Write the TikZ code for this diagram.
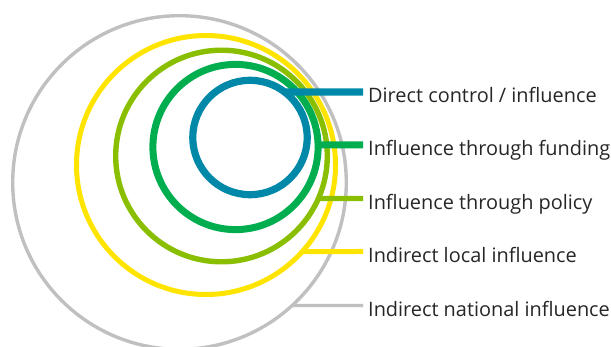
\documentclass[tikz,border=0pt]{standalone}
\usepackage{fontspec}
\setmainfont{Open Sans}
\usetikzlibrary{intersections}
\definecolor{ringblue}{RGB}{0,136,168}
\definecolor{ringgreen}{RGB}{0,174,80}
\definecolor{ringlime}{RGB}{138,190,0}
\definecolor{ringyellow}{RGB}{255,228,0}
\definecolor{ringgray}{RGB}{192,192,192}
\begin{document}
\begin{tikzpicture}[x=1pt,y=-1pt,
  ringlabel/.style={anchor=base west,inner sep=0pt,text=black!85,
    font=\fontsize{19.9}{20}\selectfont}]
\useasboundingbox (0,0) rectangle (611,347);
% ring centres
\coordinate (cgray)   at (179.5,182.5);
\coordinate (cyellow) at (206,165);
\coordinate (clime)   at (221.5,156);
\coordinate (cgreen)  at (235.5,147);
\coordinate (cblue)   at (250,137.5);
% rings, outermost first
\draw[ringgray,line width=3.4,name path=rgray] (cgray) circle[radius=166.8];
\draw[ringyellow,line width=5,name path=ryellow] (cyellow) circle[radius=129.5];
\draw[ringlime,line width=5.4,name path=rlime] (clime) circle[radius=105.8];
\draw[ringgreen,line width=7,name path=rgreen] (cgreen) circle[radius=82.6];
\draw[ringblue,line width=7.2,name path=rblue] (cblue) circle[radius=57.2];
% leader ends
\coordinate (tblue)   at (363,92);
\coordinate (tgreen)  at (363,145);
\coordinate (tlime)   at (363,198.5);
\coordinate (tyellow) at (363,251.5);
\coordinate (tgray)   at (363,305.5);
% labels
\node[ringlabel] (lblue)   at (368,103)   {Direct control / influence};
\node[ringlabel] (lgreen)  at (368,156)   {Influence through funding};
\node[ringlabel] (llime)   at (368,209.5) {Influence through policy};
\node[ringlabel] (lyellow) at (368,262.5) {Indirect local influence};
\node[ringlabel] (lgray)   at (368,316.5) {Indirect national influence};
% leaders: from each label end back to its ring
\path[name path=hgray]   (tgray)   -- ++(-140,0);
\path[name path=hyellow] (tyellow) -- ++(-140,0);
\path[name path=hlime]   (tlime)   -- ++(-140,0);
\path[name path=hgreen]  (tgreen)  -- ++(-140,0);
\path[name path=hblue]   (tblue)   -- ++(-140,0);
\path[name intersections={of=rgray and hgray,sort by=hgray}]
  coordinate (sgray) at (intersection-1);
\path[name intersections={of=ryellow and hyellow,sort by=hyellow}]
  coordinate (syellow) at (intersection-1);
\path[name intersections={of=rlime and hlime,sort by=hlime}]
  coordinate (slime) at (intersection-1);
\path[name intersections={of=rgreen and hgreen,sort by=hgreen}]
  coordinate (sgreen) at (intersection-1);
\path[name intersections={of=rblue and hblue,sort by=hblue}]
  coordinate (sblue) at (intersection-1);
\draw[ringgray,line width=3.4]   (sgray)   -- (tgray);
\draw[ringyellow,line width=5]   (syellow) -- (tyellow);
\draw[ringlime,line width=5.4]   (slime)   -- (tlime);
\draw[ringgreen,line width=7]    (sgreen)  -- (tgreen);
\draw[ringblue,line width=7.2]   (sblue)   -- (tblue);
\end{tikzpicture}
\end{document}
